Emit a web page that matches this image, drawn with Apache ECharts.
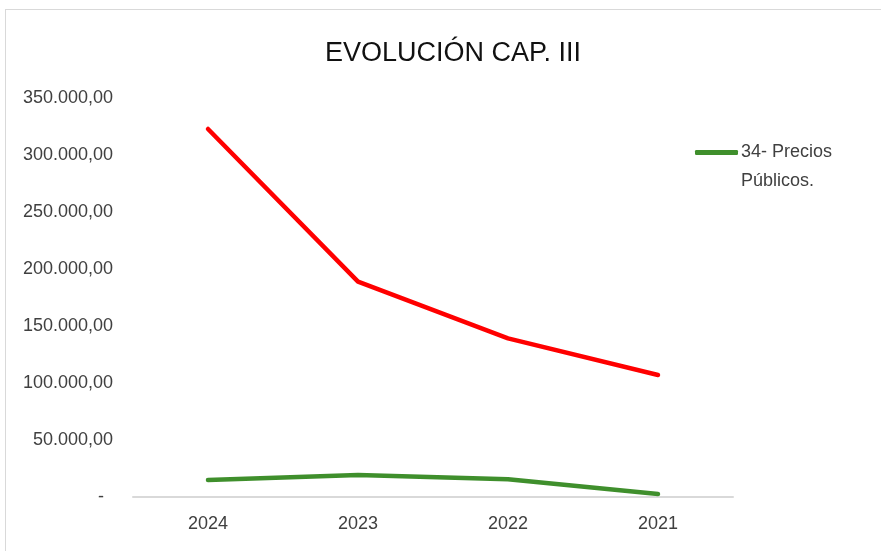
<!DOCTYPE html>
<html>
<head>
<meta charset="utf-8">
<script src="https://cdn.jsdelivr.net/npm/echarts@6/dist/echarts.min.js"></script>
<style>
html,body{margin:0;padding:0;background:#fff;}
#frame{position:absolute;left:5px;top:9px;width:876px;height:542px;border-top:1px solid #d9d9d9;border-left:1px solid #d9d9d9;box-sizing:border-box;}
#chart{position:absolute;left:0;top:0;width:881px;height:551px;}
</style>
</head>
<body>
<div id="frame"></div>
<div id="chart"></div>
<script>
const titleText = 'EVOLUCIÓN CAP. III';
const categories = ['2024', '2023', '2022', '2021'];
const redName = 'Total';
const redValues = [322800, 188900, 139200, 107000];
const greenName = '34- Precios Públicos.';
const greenValues = [14900, 19300, 15500, 2600];
const yMin = 0, yMax = 350000, yStep = 50000;

function fmt(v) {
  if (v === 0) return '{d|-}';
  const s = Math.round(v).toString().replace(/\B(?=(\d{3})+(?!\d))/g, '.');
  return s + ',00';
}

const chart = echarts.init(document.getElementById('chart'), null, {renderer: 'canvas'});
chart.setOption({
  backgroundColor: 'transparent',
  animation: false,
  title: {
    text: titleText,
    left: 448,
    textAlign: 'center',
    top: 35,
    textStyle: {fontFamily: 'Liberation Sans', fontSize: 27, fontWeight: 'normal', color: '#111'}
  },
  legend: {
    data: [greenName],
    left: 690,
    top: 104,
    icon: 'roundRect',
    itemWidth: 43,
    itemHeight: 5,
    itemGap: 0,
    formatter: function () { return ' \n34- Precios\nPúblicos.'; },
    textStyle: {fontFamily: 'Liberation Sans', fontSize: 18, color: '#404040', lineHeight: 29, padding: [0, 0, 0, -2]}
  },
  grid: {left: 133, right: 148, top: 98, bottom: 54, containLabel: false},
  xAxis: {
    type: 'category',
    data: categories,
    boundaryGap: true,
    axisLine: {lineStyle: {color: '#d9d9d9', width: 2}},
    axisTick: {show: false},
    axisLabel: {fontFamily: 'Liberation Sans', fontSize: 18, color: '#404040', margin: 18}
  },
  yAxis: {
    type: 'value',
    min: yMin, max: yMax, interval: yStep,
    axisLine: {show: false},
    axisTick: {show: false},
    splitLine: {show: false},
    axisLabel: {
      fontFamily: 'Liberation Sans', fontSize: 18, color: '#404040', margin: 20,
      formatter: fmt,
      rich: {d: {fontFamily: 'Liberation Sans', fontSize: 18, color: '#404040', padding: [0, 9, 0, 0]}}
    }
  },
  series: [
    {
      name: redName, type: 'line', data: redValues,
      symbol: 'none', lineStyle: {color: '#ff0000', width: 4.5, cap: 'round', join: 'round'},
      itemStyle: {color: '#ff0000'}
    },
    {
      name: greenName, type: 'line', data: greenValues,
      symbol: 'none', lineStyle: {color: '#3f8f2c', width: 4.5, cap: 'round', join: 'round'},
      itemStyle: {color: '#3f8f2c'}
    }
  ]
});
</script>
</body>
</html>
